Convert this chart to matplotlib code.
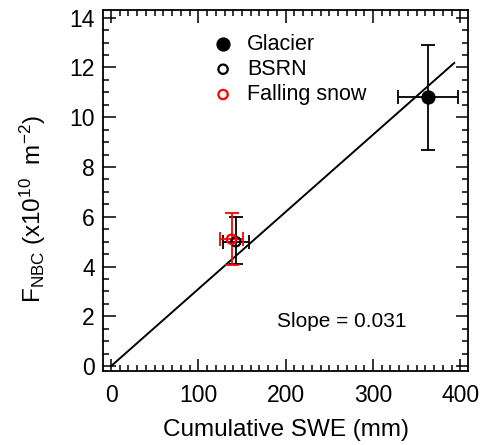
import matplotlib
matplotlib.use("Agg")
import matplotlib.pyplot as plt
from matplotlib.ticker import MultipleLocator
import numpy as np

plt.rcParams['font.family'] = ['Liberation Sans', 'DejaVu Sans']
plt.rcParams['mathtext.default'] = 'regular'

# data
names = ["Glacier", "BSRN", "Falling snow"]
swe = [363, 143, 138]
swe_err = [34, 14.5, 13]
fnbc = [10.8, 5.0, 5.1]
fnbc_lo = [8.7, 4.1, 4.05]
fnbc_hi = [12.9, 6.0, 6.15]
colors = ["black", "black", "red"]
filled = [True, False, False]
slope = 0.031
fit_x = [0, 393]


def main():
    fig = plt.figure(figsize=(4.96, 4.45), dpi=100)
    ax = fig.add_axes([0.208, 0.166, 0.736, 0.811])

    xs = np.array(fit_x)
    ax.plot(xs, slope * xs, color="black", lw=1.4, zorder=1)

    handles = []
    for i in range(len(names)):
        yerr = [[fnbc[i] - fnbc_lo[i]], [fnbc_hi[i] - fnbc[i]]]
        ax.errorbar(swe[i], fnbc[i], xerr=swe_err[i], yerr=yerr,
                    fmt="none", ecolor=colors[i], elinewidth=1.3,
                    capsize=5, capthick=1.3, zorder=2)
        h = ax.scatter(swe[i], fnbc[i], s=75 if filled[i] else 45,
                       facecolor=colors[i] if filled[i] else "none",
                       edgecolor=colors[i], linewidths=1.6, zorder=3,
                       label=names[i])
        handles.append(h)

    ax.legend(handles=handles, loc="upper left", bbox_to_anchor=(0.24, 0.995),
              frameon=False, fontsize=15.5, handletextpad=0.6,
              labelspacing=0.2, handlelength=1.0, borderpad=0.5)

    ax.text(264, 1.8, "Slope = %.3f" % slope, fontsize=15,
            ha="center", va="center")

    ax.set_xlim(-9, 409)
    ax.set_ylim(-0.2, 14.3)
    ax.xaxis.set_major_locator(MultipleLocator(100))
    ax.xaxis.set_minor_locator(MultipleLocator(10))
    ax.yaxis.set_major_locator(MultipleLocator(2))
    ax.yaxis.set_minor_locator(MultipleLocator(0.5))
    ax.tick_params(which="both", direction="in", top=True, right=True,
                   labelsize=16.5, width=1.1)
    ax.tick_params(which="major", length=9, pad=6)
    ax.tick_params(axis="x", which="major", pad=9)
    ax.tick_params(which="minor", length=4.5)
    for s in ax.spines.values():
        s.set_linewidth(1.3)

    ax.set_xlabel("Cumulative SWE (mm)", fontsize=17.5, labelpad=9)
    ax.set_ylabel("F$_{NBC}$ (x10$^{10}$  m$^{-2}$)", fontsize=17.5)
    ax.yaxis.set_label_coords(-0.15, 0.45)

    fig.savefig("out.png", dpi=100)


if __name__ == "__main__":
    main()
